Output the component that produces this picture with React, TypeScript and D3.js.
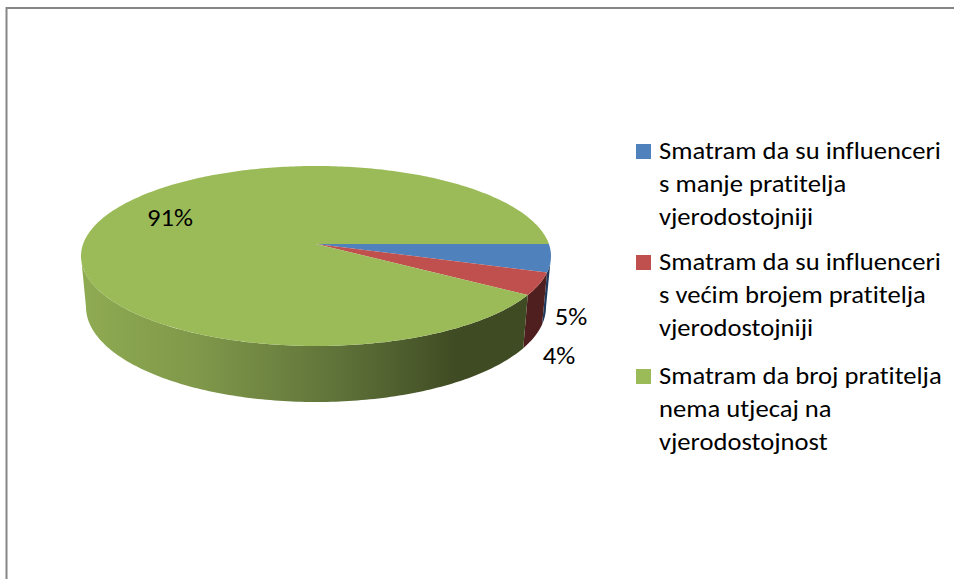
import React from "react";
import * as d3 from "d3";

const categories = [
  ["Smatram da su influenceri", "s manje pratitelja", "vjerodostojniji"],
  ["Smatram da su influenceri", "s većim brojem pratitelja", "vjerodostojniji"],
  ["Smatram da broj pratitelja", "nema utjecaj na", "vjerodostojnost"],
];
const values = [5, 4, 91];
const valueLabels = ["5%", "4%", "91%"];
const topColors = ["#4f81bd", "#c0504d", "#9bbb59"];
const sideColors = ["#1f3a5f", "#4f1f1f", "url(#greenSide)"];
const labelPos = [[571, 325], [559, 364], [170, 226]];
const legendY = [159, 270, 384];

const cx = 316;
const k = 0.1333;
const FONT = "Carlito, Calibri, Lato, 'Open Sans', sans-serif";
const FONT_SIZE = 25;
const STRETCH = 1.064;
const textStyle = { fontVariantLigatures: "none" } as React.CSSProperties;

function projector(apexY: number, rx: number, front: number) {
  const A = rx * Math.sqrt(1 - k * k);
  const B = front * (1 - k);
  return (a: number): [number, number] => {
    const d = 1 - k * Math.sin(a);
    return [cx + (A * Math.cos(a)) / d, apexY + (B * Math.sin(a)) / d];
  };
}
const topP = projector(244, 235, 102);
const botP = projector(294.3, 230, 107.7);
const line = d3.line();
const tangent = Math.asin(k);

function arcPts(p: (a: number) => [number, number], a0: number, a1: number) {
  const n = Math.max(2, Math.ceil((a1 - a0) * 60));
  return d3.range(n + 1).map((i) => p(a0 + ((a1 - a0) * i) / n));
}

export default function App() {
  const arcs = d3.pie<number>().sort(null).startAngle(0).endAngle(2 * Math.PI)(values);
  return (
    <svg width={954} height={579} style={{ position: "absolute", left: 0, top: 0, background: "#fff" }}>
      <defs>
        <linearGradient id="greenSide" gradientUnits="userSpaceOnUse" x1={81} x2={551} y1={0} y2={0}>
          <stop offset="0" stopColor="#8fab52" />
          <stop offset="0.25" stopColor="#7f984a" />
          <stop offset="0.55" stopColor="#5f7239" />
          <stop offset="0.8" stopColor="#3f4b23" />
          <stop offset="1" stopColor="#3f4b23" />
        </linearGradient>
      </defs>
      <path d="M6.5,579V8H954" fill="none" stroke="#868686" strokeWidth={2} />
      {arcs.map((s, i) => {
        const a0 = Math.max(s.startAngle, tangent);
        const a1 = Math.min(s.endAngle, Math.PI - tangent);
        return (
          <path
            key={"side" + i}
            d={line([...arcPts(topP, a0, a1), ...arcPts(botP, a0, a1).reverse()]) + "Z"}
            fill={sideColors[i]}
          />
        );
      })}
      {arcs.map((s, i) => (
        <path
          key={"top" + i}
          d={line([[cx, 244], ...arcPts(topP, s.startAngle, s.endAngle)]) + "Z"}
          fill={topColors[i]}
        />
      ))}
      {valueLabels.map((t, i) => (
        <text
          key={t}
          transform={`translate(${labelPos[i][0]},${labelPos[i][1]}) scale(${STRETCH},1)`}
          textAnchor="middle"
          fontFamily={FONT}
          fontSize={FONT_SIZE}
          fill="#000"
          style={textStyle}
        >
          {t}
        </text>
      ))}
      {categories.map((lines, i) => (
        <g key={i}>
          <rect x={636} y={legendY[i] - 15} width={15} height={15} fill={topColors[i]} />
          {lines.map((t, j) => (
            <text
              key={j}
              transform={`translate(659,${legendY[i] + j * 33}) scale(${STRETCH},1)`}
              fontFamily={FONT}
              fontSize={FONT_SIZE}
              fill="#000"
              style={textStyle}
            >
              {t}
            </text>
          ))}
        </g>
      ))}
    </svg>
  );
}
